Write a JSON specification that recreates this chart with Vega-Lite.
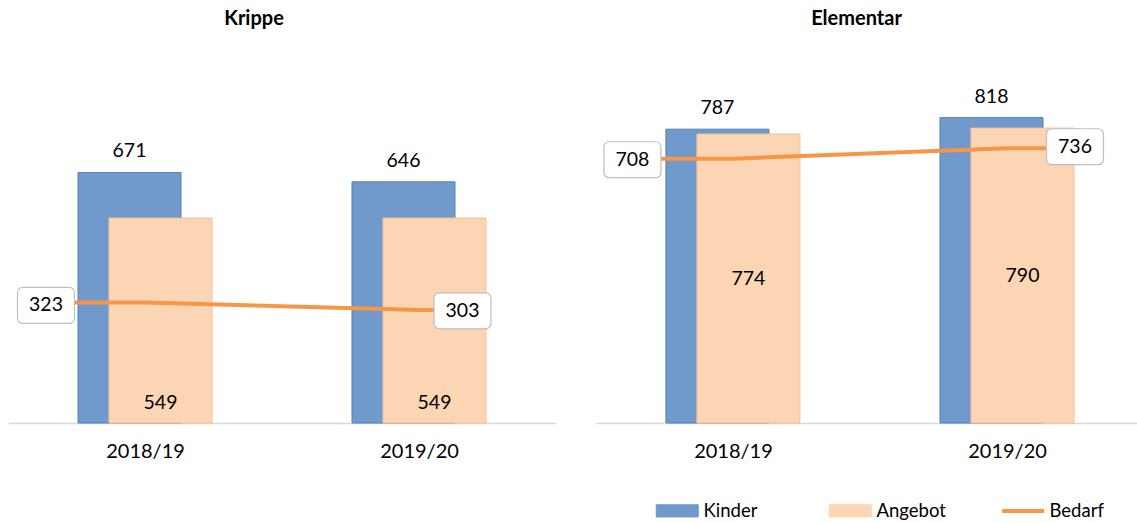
{
  "$schema": "https://vega.github.io/schema/vega-lite/v6.json",
  "background": "white",
  "padding": {"left": 8, "top": 8, "right": 0, "bottom": 0},
  "config": {"view": {"stroke": null}, "font": "Lato", "title": {"font": "Lato", "fontSize": 20, "fontWeight": "bold", "color": "#000", "offset": 58}},
  "data": {"values": [
    {"panel": "Krippe", "year": "2018/19", "series": "Kinder", "value": 671},
    {"panel": "Krippe", "year": "2018/19", "series": "Angebot", "value": 549},
    {"panel": "Krippe", "year": "2018/19", "series": "Bedarf", "value": 323},
    {"panel": "Krippe", "year": "2019/20", "series": "Kinder", "value": 646},
    {"panel": "Krippe", "year": "2019/20", "series": "Angebot", "value": 549},
    {"panel": "Krippe", "year": "2019/20", "series": "Bedarf", "value": 303},
    {"panel": "Elementar", "year": "2018/19", "series": "Kinder", "value": 787},
    {"panel": "Elementar", "year": "2018/19", "series": "Angebot", "value": 774},
    {"panel": "Elementar", "year": "2018/19", "series": "Bedarf", "value": 708},
    {"panel": "Elementar", "year": "2019/20", "series": "Kinder", "value": 818},
    {"panel": "Elementar", "year": "2019/20", "series": "Angebot", "value": 790},
    {"panel": "Elementar", "year": "2019/20", "series": "Bedarf", "value": 736}
  ]},
  "resolve": {"scale": {"x": "independent", "y": "independent", "color": "shared"}, "legend": {"color": "shared"}},
  "spacing": 40,
  "hconcat": [
    {
      "width": 548, "height": 336,
      "title": {"text": "Krippe", "dx": -28},
      "transform": [{"filter": "datum.panel === 'Krippe'"}],
      "encoding": {"x": {"field": "year", "type": "nominal", "title": null,
        "scale": {"type": "point", "padding": 0.5, "align": 0.5},
        "axis": {"labelAngle": 0, "labelFontSize": 20, "labelFont": "Lato", "labelColor": "#000", "labelPadding": 18, "ticks": false, "tickSize": 0, "domainColor": "#D9D9D9", "domainWidth": 1.5, "grid": false}}},
      "layer": [
        {"transform": [{"filter": "datum.series === 'Kinder'"}],
         "mark": {"type": "bar", "width": 103, "xOffset": -15.5, "stroke": "#4F81BD", "strokeWidth": 1},
         "encoding": {"y": {"field": "value", "type": "quantitative", "stack": null, "scale": {"domain": [0, 900]}, "axis": null},
           "color": {"field": "series", "type": "nominal", "scale": {"domain": ["Kinder", "Angebot", "Bedarf"], "range": ["#7099CC", "#FCD5B4", "#F79646"]},
             "legend": {"orient": "none", "legendX": 660, "legendY": 414.5, "direction": "horizontal", "columns": 3, "gridAlign": "all", "columnPadding": 48, "title": null,
               "labelFont": "Lato", "labelFontSize": 18.5, "labelColor": "#000", "labelOffset": 17, "symbolSize": 1764, "symbolOpacity": 1,
               "symbolType": {"expr": "datum.value === 'Bedarf' ? 'stroke' : 'M-1,-0.29L1,-0.29L1,0.29L-1,0.29Z'"},
               "symbolStrokeWidth": {"expr": "datum.value === 'Bedarf' ? 4 : 1"},
               "symbolStrokeColor": {"expr": "datum.value === 'Kinder' ? '#4F81BD' : (datum.value === 'Angebot' ? '#F9C08F' : '#F79646')"}}}}},
        {"transform": [{"filter": "datum.series === 'Angebot'"}],
         "mark": {"type": "bar", "width": 103, "xOffset": 15.5, "stroke": "#F9C08F", "strokeWidth": 1},
         "encoding": {"y": {"field": "value", "type": "quantitative", "stack": null, "scale": {"domain": [0, 900]}, "axis": null},
           "color": {"field": "series", "type": "nominal", "legend": null}}},
        {"transform": [{"filter": "datum.series === 'Bedarf'"}],
         "mark": {"type": "line", "strokeWidth": 4},
         "encoding": {"y": {"field": "value", "type": "quantitative", "scale": {"domain": [0, 900]}, "axis": null},
           "color": {"field": "series", "type": "nominal", "legend": null}}},
        {"transform": [{"filter": "datum.series === 'Bedarf' && datum.year === '2018/19'"}],
         "mark": {"type": "rule", "xOffset": -99, "x2Offset": 0, "strokeWidth": 4, "color": "#F79646"},
         "encoding": {"x2": {"field": "year"}, "y": {"field": "value", "type": "quantitative", "scale": {"domain": [0, 900]}, "axis": null}}},
        {"transform": [{"filter": "datum.series === 'Bedarf' && datum.year === '2019/20'"}],
         "mark": {"type": "rule", "xOffset": 0, "x2Offset": 43.5, "strokeWidth": 4, "color": "#F79646"},
         "encoding": {"x2": {"field": "year"}, "y": {"field": "value", "type": "quantitative", "scale": {"domain": [0, 900]}, "axis": null}}},
        {"transform": [{"filter": "datum.series === 'Kinder'"}],
         "mark": {"type": "text", "dx": -15.5, "dy": -15, "baseline": "alphabetic", "fontSize": 19.5, "font": "Lato", "color": "#000"},
         "encoding": {"y": {"field": "value", "type": "quantitative", "scale": {"domain": [0, 900]}, "axis": null}, "text": {"field": "value"}}},
        {"transform": [{"filter": "datum.series === 'Angebot'"}],
         "mark": {"type": "text", "dx": 15.5, "dy": -14.5, "baseline": "alphabetic", "fontSize": 19.5, "font": "Lato", "color": "#000"},
         "encoding": {"y": {"datum": 0, "type": "quantitative", "scale": {"domain": [0, 900]}, "axis": null}, "text": {"field": "value"}}},
        {"transform": [{"filter": "datum.series === 'Bedarf' && datum.year === '2018/19'"}],
         "mark": {"type": "point", "shape": "M-0.79,-0.63L0.79,-0.63Q1,-0.63 1,-0.42L1,0.42Q1,0.63 0.79,0.63L-0.79,0.63Q-1,0.63 -1,0.42L-1,-0.42Q-1,-0.63 -0.79,-0.63Z", "size": 3249, "filled": true, "fill": "white", "stroke": "#BFBFBF", "strokeWidth": 1.2, "opacity": 1, "xOffset": -99, "yOffset": 3},
         "encoding": {"y": {"field": "value", "type": "quantitative", "scale": {"domain": [0, 900]}, "axis": null}}},
        {"transform": [{"filter": "datum.series === 'Bedarf' && datum.year === '2018/19'"}],
         "mark": {"type": "text", "dx": -99, "dy": 3, "baseline": "middle", "fontSize": 19.5, "font": "Lato", "color": "#000"},
         "encoding": {"y": {"field": "value", "type": "quantitative", "scale": {"domain": [0, 900]}, "axis": null}, "text": {"field": "value"}}},
        {"transform": [{"filter": "datum.series === 'Bedarf' && datum.year === '2019/20'"}],
         "mark": {"type": "point", "shape": "M-0.79,-0.63L0.79,-0.63Q1,-0.63 1,-0.42L1,0.42Q1,0.63 0.79,0.63L-0.79,0.63Q-1,0.63 -1,0.42L-1,-0.42Q-1,-0.63 -0.79,-0.63Z", "size": 3249, "filled": true, "fill": "white", "stroke": "#BFBFBF", "strokeWidth": 1.2, "opacity": 1, "xOffset": 43.5, "yOffset": 1},
         "encoding": {"y": {"field": "value", "type": "quantitative", "scale": {"domain": [0, 900]}, "axis": null}}},
        {"transform": [{"filter": "datum.series === 'Bedarf' && datum.year === '2019/20'"}],
         "mark": {"type": "text", "dx": 43.5, "dy": 1, "baseline": "middle", "fontSize": 19.5, "font": "Lato", "color": "#000"},
         "encoding": {"y": {"field": "value", "type": "quantitative", "scale": {"domain": [0, 900]}, "axis": null}, "text": {"field": "value"}}}
      ]
    },
    {
      "width": 541, "height": 336,
      "title": {"text": "Elementar", "dx": -10},
      "transform": [{"filter": "datum.panel === 'Elementar'"}],
      "resolve": {"scale": {"y": "independent"}},
      "encoding": {"x": {"field": "year", "type": "nominal", "title": null,
        "scale": {"type": "point", "padding": 0.487, "align": 0.513},
        "axis": {"labelAngle": 0, "labelFontSize": 20, "labelFont": "Lato", "labelColor": "#000", "labelPadding": 18, "ticks": false, "tickSize": 0, "domainColor": "#D9D9D9", "domainWidth": 1.5, "grid": false}}},
      "layer": [
        {"transform": [{"filter": "datum.series === 'Kinder'"}],
         "mark": {"type": "bar", "width": 103, "xOffset": -15.5, "stroke": "#4F81BD", "strokeWidth": 1},
         "encoding": {"y": {"field": "value", "type": "quantitative", "stack": null, "scale": {"domain": [0, 900]}, "axis": null},
           "color": {"field": "series", "type": "nominal", "legend": null}}},
        {"transform": [{"filter": "datum.series === 'Angebot'"}],
         "mark": {"type": "bar", "width": 103, "xOffset": 15.5, "stroke": "#F9C08F", "strokeWidth": 1},
         "encoding": {"y": {"field": "value", "type": "quantitative", "stack": null, "scale": {"domain": [0, 900]}, "axis": null},
           "color": {"field": "series", "type": "nominal", "legend": null}}},
        {"transform": [{"filter": "datum.series === 'Bedarf'"}],
         "mark": {"type": "line", "strokeWidth": 4},
         "encoding": {"y": {"field": "value", "type": "quantitative", "scale": {"domain": [0, 900]}, "axis": null},
           "color": {"field": "series", "type": "nominal", "legend": null}}},
        {"transform": [{"filter": "datum.series === 'Bedarf' && datum.year === '2018/19'"}],
         "mark": {"type": "rule", "xOffset": -99, "x2Offset": 0, "strokeWidth": 4, "color": "#F79646"},
         "encoding": {"x2": {"field": "year"}, "y": {"field": "value", "type": "quantitative", "scale": {"domain": [0, 900]}, "axis": null}}},
        {"transform": [{"filter": "datum.series === 'Bedarf' && datum.year === '2019/20'"}],
         "mark": {"type": "rule", "xOffset": 0, "x2Offset": 68, "strokeWidth": 4, "color": "#F79646"},
         "encoding": {"x2": {"field": "year"}, "y": {"field": "value", "type": "quantitative", "scale": {"domain": [0, 900]}, "axis": null}}},
        {"transform": [{"filter": "datum.series === 'Kinder'"}],
         "mark": {"type": "text", "dx": -15.5, "dy": -15, "baseline": "alphabetic", "fontSize": 19.5, "font": "Lato", "color": "#000"},
         "encoding": {"y": {"field": "value", "type": "quantitative", "scale": {"domain": [0, 900]}, "axis": null}, "text": {"field": "value"}}},
        {"transform": [{"filter": "datum.series === 'Angebot'"}],
         "mark": {"type": "text", "dx": 15.5, "dy": 0, "baseline": "middle", "fontSize": 19.5, "font": "Lato", "color": "#000"},
         "encoding": {"y": {"field": "value", "type": "quantitative", "scale": {"domain": [0, 1800]}, "axis": null}, "text": {"field": "value"}}},
        {"transform": [{"filter": "datum.series === 'Bedarf' && datum.year === '2018/19'"}],
         "mark": {"type": "point", "shape": "M-0.79,-0.63L0.79,-0.63Q1,-0.63 1,-0.42L1,0.42Q1,0.63 0.79,0.63L-0.79,0.63Q-1,0.63 -1,0.42L-1,-0.42Q-1,-0.63 -0.79,-0.63Z", "size": 3249, "filled": true, "fill": "white", "stroke": "#BFBFBF", "strokeWidth": 1.2, "opacity": 1, "xOffset": -100.5, "yOffset": 1},
         "encoding": {"y": {"field": "value", "type": "quantitative", "scale": {"domain": [0, 900]}, "axis": null}}},
        {"transform": [{"filter": "datum.series === 'Bedarf' && datum.year === '2018/19'"}],
         "mark": {"type": "text", "dx": -100.5, "dy": 1, "baseline": "middle", "fontSize": 19.5, "font": "Lato", "color": "#000"},
         "encoding": {"y": {"field": "value", "type": "quantitative", "scale": {"domain": [0, 900]}, "axis": null}, "text": {"field": "value"}}},
        {"transform": [{"filter": "datum.series === 'Bedarf' && datum.year === '2019/20'"}],
         "mark": {"type": "point", "shape": "M-0.79,-0.63L0.79,-0.63Q1,-0.63 1,-0.42L1,0.42Q1,0.63 0.79,0.63L-0.79,0.63Q-1,0.63 -1,0.42L-1,-0.42Q-1,-0.63 -0.79,-0.63Z", "size": 3249, "filled": true, "fill": "white", "stroke": "#BFBFBF", "strokeWidth": 1.2, "opacity": 1, "xOffset": 68, "yOffset": -1.5},
         "encoding": {"y": {"field": "value", "type": "quantitative", "scale": {"domain": [0, 900]}, "axis": null}}},
        {"transform": [{"filter": "datum.series === 'Bedarf' && datum.year === '2019/20'"}],
         "mark": {"type": "text", "dx": 68, "dy": -1.5, "baseline": "middle", "fontSize": 19.5, "font": "Lato", "color": "#000"},
         "encoding": {"y": {"field": "value", "type": "quantitative", "scale": {"domain": [0, 900]}, "axis": null}, "text": {"field": "value"}}}
      ]
    }
  ]
}
